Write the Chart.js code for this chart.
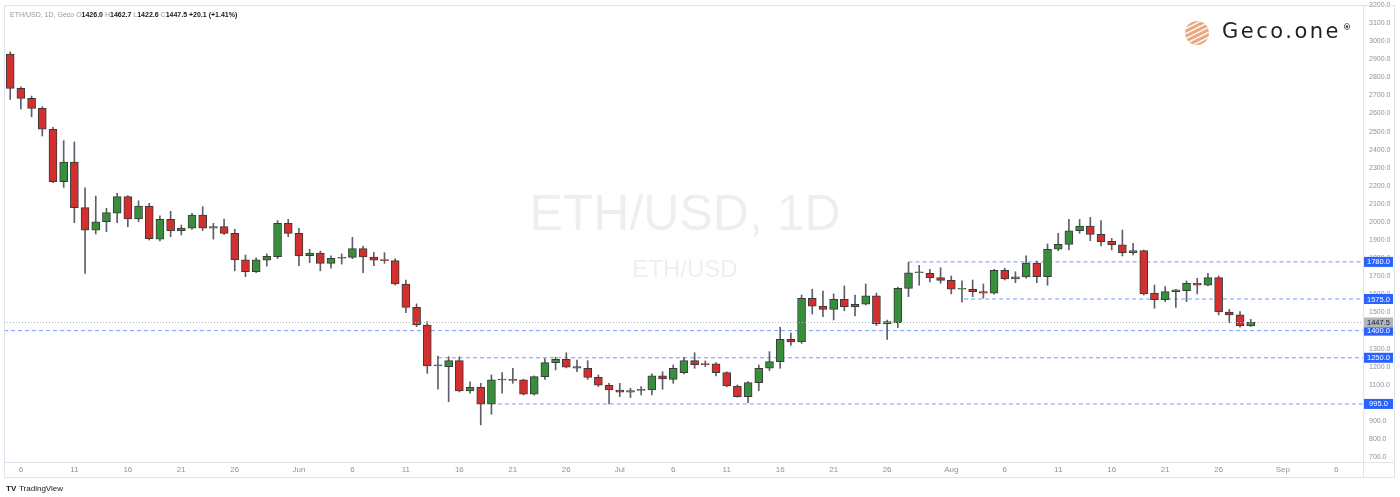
<!DOCTYPE html>
<html lang="en">
<head>
<meta charset="UTF-8">
<title>ETH/USD 1D</title>
<style>
  body {
    margin: 0;
    padding: 0;
    background: #fff;
  }
  #wrap {
    width: 1400px;
    height: 497px;
  }
</style>
<script src="https://cdn.jsdelivr.net/npm/chart.js"></script>
</head>
<body>
<div id="wrap"><canvas id="ethChart" width="1400" height="497"></canvas></div>
<script>
  // daily candles, day 0 = 2022-05-05
  const startDate = '2022-05-05';
  const opens = [
    2929, 2739, 2684, 2629, 2513, 2223, 2332, 2080, 1956, 2002, 2049, 2141, 2017, 2089, 1906, 2015,
    1953, 1967, 2039, 1967, 1975, 1938, 1791, 1726, 1789, 1809, 1993, 1938, 1814, 1829, 1772, 1800,
    1805, 1853, 1807, 1789, 1787, 1658, 1529, 1431, 1205, 1201, 1234, 1067, 1087, 993, 1128, 1127,
    1128, 1049, 1146, 1223, 1242, 1201, 1192, 1142, 1098, 1072, 1060, 1069, 1072, 1150, 1131, 1168,
    1234, 1214, 1216, 1168, 1094, 1035, 1113, 1192, 1229, 1352, 1338, 1579, 1536, 1518, 1573, 1532,
    1546, 1593, 1439, 1444, 1634, 1720, 1717, 1693, 1678, 1629, 1629, 1616, 1607, 1733, 1686, 1697,
    1774, 1698, 1850, 1877, 1952, 1978, 1932, 1894, 1874, 1831, 1842, 1607, 1571, 1616, 1621, 1662,
    1652, 1693, 1503, 1487, 1426
  ];
  const highs = [
    2941, 2748, 2697, 2638, 2524, 2450, 2443, 2190, 2144, 2076, 2159, 2146, 2118, 2104, 2034, 2060,
    1984, 2049, 2085, 1993, 2017, 1960, 1818, 1803, 1824, 2008, 2015, 1966, 1850, 1840, 1813, 1824,
    1916, 1868, 1833, 1831, 1798, 1680, 1548, 1450, 1260, 1256, 1256, 1117, 1109, 1155, 1168, 1192,
    1132, 1150, 1245, 1253, 1278, 1238, 1234, 1155, 1109, 1109, 1082, 1091, 1161, 1173, 1210, 1253,
    1278, 1233, 1223, 1173, 1100, 1118, 1210, 1284, 1419, 1386, 1597, 1629, 1619, 1603, 1647, 1597,
    1658, 1607, 1459, 1640, 1778, 1761, 1739, 1748, 1702, 1676, 1680, 1658, 1739, 1745, 1726, 1813,
    1785, 1879, 1938, 2015, 2015, 2026, 2008, 1910, 1956, 1883, 1846, 1652, 1643, 1629, 1675, 1689,
    1717, 1702, 1518, 1505, 1462.7
  ];
  const lows = [
    2678, 2625, 2582, 2476, 2218, 2192, 1997, 1717, 1934, 1947, 1997, 1975, 2002, 1901, 1896, 1919,
    1929, 1960, 1953, 1906, 1932, 1731, 1698, 1720, 1757, 1798, 1919, 1759, 1776, 1731, 1745, 1768,
    1798, 1721, 1759, 1772, 1652, 1499, 1422, 1164, 1076, 1008, 1061, 1054, 879, 938, 1054, 1109,
    1044, 1044, 1131, 1183, 1194, 1173, 1131, 1091, 995, 1035, 1030, 1045, 1045, 1076, 1109, 1161,
    1192, 1201, 1150, 1089, 1032, 1002, 1068, 1179, 1192, 1319, 1330, 1492, 1477, 1459, 1510, 1481,
    1542, 1428, 1352, 1417, 1588, 1651, 1669, 1662, 1603, 1557, 1588, 1579, 1602, 1680, 1665, 1690,
    1665, 1651, 1842, 1846, 1938, 1897, 1868, 1846, 1813, 1818, 1597, 1524, 1560, 1529, 1560, 1603,
    1647, 1487, 1444, 1419, 1422.6
  ];
  const closes = [
    2739, 2684, 2629, 2513, 2223, 2332, 2080, 1956, 2002, 2052, 2141, 2017, 2089, 1908, 2015, 1953,
    1967, 2039, 1967, 1975, 1938, 1791, 1726, 1791, 1811, 1993, 1938, 1813, 1829, 1772, 1800, 1805,
    1853, 1807, 1789, 1787, 1658, 1529, 1431, 1205, 1208, 1234, 1067, 1087, 993, 1128, 1127, 1125,
    1049, 1146, 1223, 1242, 1198, 1192, 1142, 1098, 1072, 1060, 1069, 1076, 1150, 1133, 1192, 1234,
    1212, 1212, 1168, 1094, 1035, 1113, 1192, 1229, 1352, 1338, 1579, 1536, 1518, 1573, 1532, 1546,
    1593, 1439, 1450, 1634, 1720, 1722, 1693, 1678, 1629, 1631, 1616, 1607, 1733, 1686, 1697, 1774,
    1698, 1850, 1877, 1952, 1978, 1932, 1892, 1874, 1831, 1842, 1603, 1571, 1616, 1625, 1662, 1652,
    1693, 1503, 1487, 1426, 1447.5
  ];

  // horizontal levels and the day each dashed line starts on
  const levels = [1780, 1575, 1400, 1250, 995];
  const levelStarts = [84, 89.2, -1, 40, 45.6];
  const lastPrice = 1447.5;

  const priceTicks = [700, 800, 900, 1000, 1100, 1200, 1300, 1400, 1500, 1600, 1700, 1800, 1900,
    2000, 2100, 2200, 2300, 2400, 2500, 2600, 2700, 2800, 2900, 3000, 3100, 3200];
  const tickDays = [1, 6, 11, 16, 21, 27, 32, 37, 42, 47, 52, 57, 62, 67, 72, 77, 82, 88, 93, 98,
    103, 108, 113, 119, 124];
  const tickLabels = ['6', '11', '16', '21', '26', 'Jun', '6', '11', '16', '21', '26', 'Jul', '6',
    '11', '16', '21', '26', 'Aug', '6', '11', '16', '21', '26', 'Sep', '6'];

  const xMin = -0.58;
  const xMax = 126.5;
  const upColor = '#388e3c';
  const downColor = '#d32f2f';

  const bodies = opens.map((o, i) => ({ x: i, y: [o, closes[i]] }));
  const wicks = opens.map((o, i) => ({ x: i, y: [lows[i], highs[i]] }));
  const bodyColors = opens.map((o, i) => closes[i] >= o ? upColor : downColor);

  const levelSets = levels.map((lv, i) => ({
    type: 'line',
    data: [{ x: levelStarts[i] < xMin ? xMin : levelStarts[i], y: lv }, { x: xMax, y: lv }],
    borderColor: 'rgba(41, 98, 255, 0.65)',
    borderWidth: 1,
    borderDash: [4, 3],
    pointRadius: 0,
    order: 3
  }));

  const overlay = {
    id: 'overlay',
    beforeDraw(chart) {
      const c = chart.ctx;
      c.save();
      // watermark
      c.fillStyle = 'rgba(0,0,0,0.065)';
      c.textAlign = 'center';
      c.textBaseline = 'middle';
      c.font = '50px "Liberation Sans"';
      c.fillText('ETH/USD, 1D', 685, 216);
      c.font = '24px "Liberation Sans"';
      c.fillText('ETH/USD', 685, 270);
      c.restore();
    },
    afterDraw(chart) {
      const c = chart.ctx;
      const a = chart.chartArea;
      const y = chart.scales.y;
      c.save();
      // pane borders
      c.strokeStyle = '#e0e3eb';
      c.lineWidth = 1;
      c.strokeRect(a.left + 0.5, a.top + 0.5, 1394 - a.left, 477 - a.top);
      c.beginPath();
      c.moveTo(a.right + 0.5, a.top);
      c.lineTo(a.right + 0.5, 477);
      c.moveTo(a.left, a.bottom + 0.5);
      c.lineTo(1394, a.bottom + 0.5);
      c.stroke();

      // last price dotted line
      const py = Math.round(y.getPixelForValue(lastPrice)) + 0.5;
      c.strokeStyle = '#b2b5be';
      c.setLineDash([1, 2]);
      c.beginPath();
      c.moveTo(a.left, py);
      c.lineTo(a.right, py);
      c.stroke();
      c.setLineDash([]);

      // axis labels for levels
      c.font = '7.5px "Liberation Sans"';
      c.textAlign = 'center';
      c.textBaseline = 'middle';
      levels.forEach(lv => {
        const ly = y.getPixelForValue(lv);
        c.fillStyle = '#2962ff';
        c.fillRect(a.right + 1, ly - 5, 29, 10);
        c.fillStyle = '#fff';
        c.fillText(lv.toFixed(1), a.right + 15.5, ly + 0.5);
      });
      c.fillStyle = '#b2b5be';
      c.fillRect(a.right + 1, py - 5, 29, 10);
      c.fillStyle = '#131722';
      c.fillText(lastPrice.toFixed(1), a.right + 15.5, py + 0.5);

      // legend line
      c.textAlign = 'left';
      let tx = 10;
      const parts = [
        ['ETH/USD, 1D, Geco ', '#9598a1'],
        ['O', '#9598a1'], [opens[opens.length - 1].toFixed(1) + ' ', '#131722'],
        ['H', '#9598a1'], [highs[highs.length - 1].toFixed(1) + ' ', '#131722'],
        ['L', '#9598a1'], [lows[lows.length - 1].toFixed(1) + ' ', '#131722'],
        ['C', '#9598a1'], [closes[closes.length - 1].toFixed(1) + ' ', '#131722'],
        ['+20.1 (+1.41%)', '#131722']
      ];
      parts.forEach(p => {
        c.fillStyle = p[1];
        c.font = (p[1] === '#131722' ? 'bold ' : '') + '7px "Liberation Sans"';
        c.fillText(p[0], tx, 15);
        tx += c.measureText(p[0]).width;
      });

      // Geco.one logo
      c.fillStyle = '#e9aa80';
      c.beginPath();
      c.arc(1197, 33, 12, 0, Math.PI * 2);
      c.fill();
      c.save();
      c.beginPath();
      c.arc(1197, 33, 12, 0, Math.PI * 2);
      c.clip();
      c.strokeStyle = '#fff';
      c.lineWidth = 1.3;
      for (let k = -3; k <= 3; k++) {
        c.beginPath();
        c.moveTo(1183, 40 + k * 5);
        c.lineTo(1211, 26 + k * 5);
        c.stroke();
      }
      c.restore();
      c.fillStyle = '#1f1f26';
      c.font = '21px "DejaVu Sans"';
      c.letterSpacing = '2.5px';
      c.textBaseline = 'middle';
      c.fillText('Geco.one', 1222, 33);
      c.letterSpacing = '0px';
      c.font = 'bold 8px "DejaVu Sans"';
      c.fillText('®', 1343, 28);

      // TradingView mark
      c.fillStyle = '#131722';
      c.font = 'bold 8px "Liberation Sans"';
      c.fillText('TV', 6, 489);
      c.font = '8px "Liberation Sans"';
      c.fillText('TradingView', 19, 489);
      c.restore();
    }
  };

  const ctx = document.getElementById('ethChart').getContext('2d');
  const ethChart = new Chart(ctx, {
    type: 'bar',
    data: {
      datasets: [
        {
          label: 'body',
          data: bodies,
          backgroundColor: bodyColors,
          borderColor: '#3a3a3a',
          borderWidth: 1,
          borderSkipped: false,
          barThickness: 8,
          minBarLength: 1,
          grouped: false,
          order: 1
        },
        {
          label: 'wick',
          data: wicks,
          backgroundColor: '#5d606b',
          borderWidth: 0,
          barThickness: 1,
          grouped: false,
          order: 2
        },
        ...levelSets
      ]
    },
    options: {
      responsive: false,
      animation: false,
      layout: { padding: { left: 4, top: 5, right: 6, bottom: 20 } },
      plugins: {
        legend: { display: false },
        tooltip: { enabled: false }
      },
      scales: {
        x: {
          type: 'linear',
          min: xMin,
          max: xMax,
          offset: false,
          grid: { display: false, drawTicks: false },
          border: { display: false },
          afterBuildTicks: axis => { axis.ticks = tickDays.map(v => ({ value: v })); },
          afterFit: axis => {
            axis.height = 15;
            axis.paddingLeft = 0;
            axis.paddingRight = 0;
          },
          ticks: {
            autoSkip: false,
            maxRotation: 0,
            padding: 3,
            color: '#8f929b',
            font: { family: 'Liberation Sans', size: 8 },
            callback: (v, i) => tickLabels[i]
          }
        },
        y: {
          type: 'linear',
          position: 'right',
          min: 674,
          max: 3200,
          grid: { display: false, drawTicks: false },
          border: { display: false },
          afterBuildTicks: axis => { axis.ticks = priceTicks.map(v => ({ value: v })); },
          afterFit: axis => {
            axis.width = 31;
            axis.paddingTop = 0;
            axis.paddingBottom = 0;
          },
          ticks: {
            padding: 6,
            color: '#8f929b',
            font: { family: 'Liberation Sans', size: 7 },
            callback: v => v.toFixed(1)
          }
        }
      }
    },
    plugins: [overlay]
  });
</script>
</body>
</html>
